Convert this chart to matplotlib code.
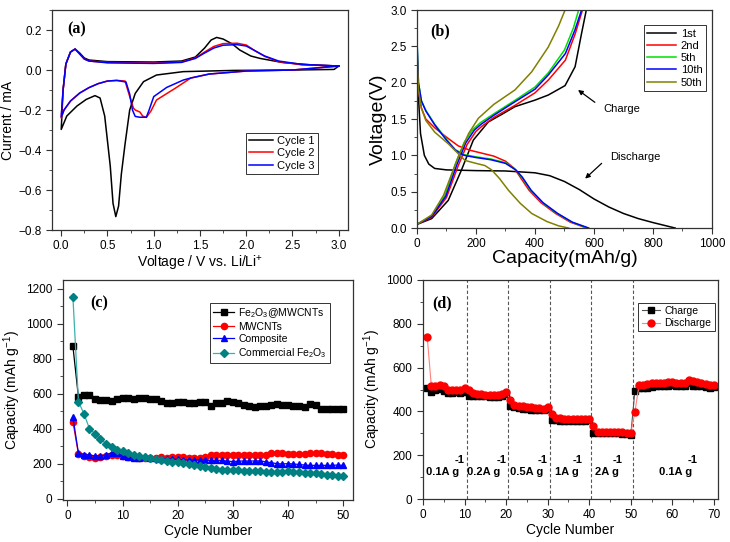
import matplotlib.pyplot as plt
from matplotlib.ticker import MultipleLocator

plt.rcParams['font.family'] = ['Liberation Sans', 'DejaVu Sans']
plt.rcParams['mathtext.fontset'] = 'custom'
plt.rcParams['mathtext.rm'] = 'Liberation Sans'
plt.rcParams['mathtext.it'] = 'Liberation Sans:italic'
plt.rcParams['mathtext.bf'] = 'Liberation Sans:bold'

# ---- (a) CV curves: cathodic scan (3.0 -> 0) then anodic scan (0 -> 3.0)
cv1_v = [3.0, 2.95, 2.5, 1.86, 1.32, 1.03, 0.89, 0.80, 0.74, 0.69, 0.65, 0.62, 0.59, 0.56, 0.53, 0.47,
         0.42, 0.365, 0.27, 0.17, 0.06, 0.0,
         0.02, 0.05, 0.1, 0.15, 0.2, 0.25, 0.3, 0.5, 1.0, 1.3, 1.45, 1.55, 1.62, 1.68, 1.75, 1.85,
         1.93, 2.05, 2.15, 2.4, 2.7, 3.0]
cv1_i = [0.02, 0.003, 0.0, -0.002, -0.008, -0.025, -0.058, -0.117, -0.2, -0.37, -0.52, -0.68, -0.733, -0.667, -0.48, -0.23,
         -0.14, -0.128, -0.147, -0.18, -0.23, -0.297,
         -0.1, 0.03, 0.09, 0.105, 0.085, 0.06, 0.05, 0.042, 0.04, 0.045, 0.065, 0.11, 0.15, 0.163, 0.155, 0.13,
         0.10, 0.07, 0.058, 0.037, 0.026, 0.02]

cv2_v = [3.0, 2.5, 2.0, 1.6, 1.4, 1.23, 1.15, 1.03, 0.97, 0.92, 0.88, 0.85, 0.80, 0.78, 0.73, 0.69, 0.6,
         0.5, 0.4, 0.3, 0.2, 0.1, 0.03, 0.0,
         0.02, 0.05, 0.1, 0.15, 0.2, 0.25, 0.3, 0.5, 1.0, 1.3, 1.45, 1.55, 1.65, 1.75, 1.9, 2.0, 2.1,
         2.2, 2.35, 2.6, 3.0]
cv2_i = [0.02, 0.0, -0.005, -0.02, -0.04, -0.092, -0.115, -0.15, -0.205, -0.237, -0.23, -0.21, -0.2, -0.19, -0.117, -0.055, -0.052,
         -0.055, -0.068, -0.088, -0.115, -0.155, -0.2, -0.24,
         -0.1, 0.03, 0.09, 0.105, 0.08, 0.055, 0.045, 0.038, 0.035, 0.04, 0.06, 0.09, 0.118, 0.132, 0.134, 0.125, 0.095,
         0.068, 0.042, 0.026, 0.02]

cv3_v = [3.0, 2.5, 2.0, 1.6, 1.4, 1.32, 1.14, 1.0, 0.95, 0.92, 0.85, 0.80, 0.77, 0.74, 0.70, 0.6,
         0.5, 0.4, 0.3, 0.2, 0.1, 0.03, 0.0,
         0.02, 0.05, 0.1, 0.15, 0.2, 0.25, 0.3, 0.5, 1.0, 1.3, 1.45, 1.55, 1.65, 1.75, 1.9, 2.0, 2.1,
         2.2, 2.35, 2.6, 3.0]
cv3_i = [0.02, 0.0, -0.005, -0.02, -0.04, -0.05, -0.087, -0.133, -0.2, -0.236, -0.236, -0.232, -0.2, -0.12, -0.06, -0.052,
         -0.055, -0.068, -0.088, -0.115, -0.155, -0.2, -0.235,
         -0.1, 0.03, 0.09, 0.105, 0.08, 0.055, 0.045, 0.036, 0.033, 0.038, 0.058, 0.085, 0.11, 0.124, 0.127, 0.12, 0.095,
         0.07, 0.045, 0.028, 0.02]

# ---- (b) charge / discharge profiles
d1_cap = [0, 5, 12, 25, 40, 60, 100, 200, 300, 400, 450, 500, 550, 600, 650, 700, 750, 800, 850, 875]
d1_v = [2.4, 1.8, 1.3, 1.0, 0.88, 0.82, 0.80, 0.79, 0.785, 0.76, 0.72, 0.64, 0.53, 0.40, 0.29, 0.20, 0.13, 0.075, 0.025, 0.0]
c1_cap = [0, 50, 106, 151, 191, 242, 290, 332, 400, 445, 502, 536, 558, 574]
c1_v = [0.05, 0.13, 0.38, 0.80, 1.21, 1.46, 1.57, 1.67, 1.76, 1.83, 1.96, 2.22, 2.68, 3.0]

d2_cap = [0, 5, 15, 30, 60, 100, 140, 180, 220, 260, 300, 330, 350, 380, 420, 470, 520, 575]
d2_v = [2.3, 1.9, 1.65, 1.50, 1.38, 1.25, 1.13, 1.07, 1.03, 0.99, 0.92, 0.82, 0.70, 0.52, 0.35, 0.20, 0.08, 0.0]
c2_cap = [0, 50, 100, 140, 170, 200, 220, 260, 333, 400, 446, 503, 537, 561]
c2_v = [0.05, 0.15, 0.42, 0.86, 1.15, 1.33, 1.40, 1.52, 1.69, 1.86, 2.04, 2.31, 2.68, 3.0]

d5_cap = [0, 5, 15, 30, 60, 100, 130, 160, 200, 250, 300, 335, 355, 385, 425, 475, 525, 578]
d5_v = [2.6, 2.0, 1.75, 1.62, 1.43, 1.22, 1.08, 1.01, 0.98, 0.95, 0.90, 0.80, 0.70, 0.52, 0.35, 0.20, 0.08, 0.0]
c5_cap = [0, 50, 95, 130, 160, 190, 215, 260, 333, 400, 446, 500, 530, 548]
c5_v = [0.05, 0.17, 0.45, 0.88, 1.18, 1.36, 1.45, 1.57, 1.76, 1.94, 2.14, 2.45, 2.75, 3.0]

d10_cap = [0, 5, 15, 30, 60, 100, 130, 160, 200, 250, 300, 335, 357, 387, 427, 477, 527, 582]
d10_v = [2.6, 2.0, 1.75, 1.61, 1.42, 1.21, 1.07, 1.0, 0.97, 0.94, 0.89, 0.80, 0.70, 0.52, 0.35, 0.20, 0.08, 0.0]
c10_cap = [0, 50, 98, 135, 165, 195, 218, 260, 333, 400, 446, 503, 535, 558]
c10_v = [0.05, 0.16, 0.44, 0.87, 1.17, 1.35, 1.43, 1.55, 1.74, 1.91, 2.11, 2.40, 2.72, 3.0]

d50_cap = [0, 5, 15, 30, 60, 106, 163, 200, 230, 253, 280, 310, 350, 389, 440, 480, 514]
d50_v = [2.5, 1.9, 1.65, 1.48, 1.32, 1.16, 0.93, 0.89, 0.86, 0.80, 0.68, 0.52, 0.34, 0.20, 0.09, 0.03, 0.0]
c50_cap = [0, 50, 90, 140, 175, 208, 260, 332, 389, 445, 480, 502]
c50_v = [0.05, 0.18, 0.45, 0.98, 1.30, 1.51, 1.70, 1.90, 2.15, 2.49, 2.78, 3.0]

# ---- (c) cycling of different materials
cyc_c = list(range(1, 51))
fe_mwcnt = [870, 580, 590, 590, 570, 565, 565, 560, 570, 578, 575, 570, 575, 575, 570, 572, 560, 545, 545, 555,
            550, 545, 545, 552, 550, 528, 545, 545, 560, 552, 545, 535, 530, 525, 532, 532, 535, 540, 535, 535,
            530, 530, 525, 540, 535, 515, 515, 510, 515, 515]
mwcnt = [440, 255, 245, 238, 232, 236, 242, 248, 250, 246, 240, 236, 234, 232, 232, 234, 236, 234, 236, 238,
         236, 234, 232, 232, 236, 248, 252, 252, 252, 250, 252, 252, 252, 248, 250, 252, 258, 260, 258, 256,
         254, 254, 256, 258, 260, 258, 256, 254, 252, 248]
composite = [465, 260, 252, 248, 245, 245, 250, 262, 258, 245, 235, 232, 234, 236, 234, 232, 228, 228, 226, 224,
             222, 220, 220, 222, 220, 218, 220, 218, 214, 212, 214, 215, 215, 215, 216, 210, 205, 200, 198, 200,
             198, 195, 192, 190, 190, 190, 190, 190, 192, 190]
commercial = [1150, 555, 485, 400, 370, 340, 315, 295, 280, 270, 260, 250, 245, 240, 232, 225, 220, 215, 212, 208,
              205, 198, 190, 185, 180, 175, 170, 166, 164, 162, 162, 160, 160, 158, 156, 153, 150, 150, 153, 155,
              153, 150, 148, 146, 145, 140, 137, 134, 132, 127]

# ---- (d) rate performance
cyc_d = list(range(1, 71))
charge = [505, 488, 500, 502, 494, 485, 486, 487, 484, 490,
          472, 470, 470, 471, 470, 466, 468, 468, 470, 480,
          424, 420, 416, 413, 410, 408, 407, 406, 406, 412,
          362, 360, 358, 358, 358, 358, 358, 358, 358, 360,
          300, 300, 300, 300, 300, 300, 300, 298, 296, 294,
          495, 505, 505, 508, 512, 515, 515, 516, 518, 520,
          514, 514, 518, 530, 518, 516, 514, 510, 508, 510]
discharge = [742, 515, 518, 522, 516, 500, 498, 500, 498, 506,
             498, 482, 478, 478, 476, 474, 474, 474, 478, 488,
             452, 430, 426, 424, 420, 418, 416, 414, 412, 418,
             390, 370, 368, 366, 365, 365, 365, 365, 365, 365,
             332, 308, 307, 307, 306, 306, 306, 304, 302, 300,
             398, 522, 522, 524, 528, 530, 530, 530, 532, 535,
             528, 528, 530, 545, 538, 532, 528, 525, 522, 520]
rate_labels = ['0.1A g', '0.2A g', '0.5A g', '1A g', '2A g', '0.1A g']
rate_x = [0.6, 10.7, 20.9, 31.8, 41.3, 56.9]
rate_sup_x = [7.5, 17.6, 27.7, 36.1, 45.7, 63.8]
rate_bounds = [10.5, 20.5, 30.5, 40.5, 50.5]


def style_axis(ax):
    for s in ax.spines.values():
        s.set_color('#333333')
        s.set_linewidth(0.9)
    ax.tick_params(which='both', direction='out', top=False, right=False, labelsize=8.5, color='#333333')
    ax.tick_params(which='major', length=4)
    ax.tick_params(which='minor', length=2.2)


def panel_label(ax, txt, x, y):
    ax.text(x, y, txt, transform=ax.transAxes, fontsize=11.5, fontweight='bold',
            family='Liberation Serif', va='center')


def small_legend(ax, anchor, loc, hl, fs=8):
    leg = ax.legend(loc=loc, bbox_to_anchor=anchor, borderaxespad=0, fontsize=fs,
                    fancybox=False, framealpha=1, edgecolor='#333333', handlelength=hl,
                    borderpad=0.3, labelspacing=0.2, handletextpad=0.4)
    leg.get_frame().set_linewidth(0.7)


fig = plt.figure(figsize=(7.3, 5.42), dpi=100)
ax_a = fig.add_axes([0.0712, 0.5756, 0.4055, 0.4059])
ax_b = fig.add_axes([0.5712, 0.5793, 0.4041, 0.4022])
ax_c = fig.add_axes([0.0863, 0.0775, 0.3973, 0.4059])
ax_d = fig.add_axes([0.5795, 0.0793, 0.4041, 0.4041])

# (a)
ax_a.plot(cv1_v, cv1_i, color='black', lw=1.1, label='Cycle 1')
ax_a.plot(cv2_v, cv2_i, color='red', lw=1.1, label='Cycle 2')
ax_a.plot(cv3_v, cv3_i, color='blue', lw=1.1, label='Cycle 3')
ax_a.set_xlim(-0.1, 3.1)
ax_a.set_ylim(-0.8, 0.3)
ax_a.xaxis.set_major_locator(MultipleLocator(0.5))
ax_a.xaxis.set_minor_locator(MultipleLocator(0.25))
ax_a.yaxis.set_major_locator(MultipleLocator(0.2))
ax_a.yaxis.set_minor_locator(MultipleLocator(0.1))
ax_a.set_xlabel('Voltage / V vs. Li/Li$^{+}$', fontsize=10, labelpad=1)
ax_a.set_ylabel('Current / mA', fontsize=10, labelpad=2)
style_axis(ax_a)
panel_label(ax_a, '(a)', 0.05, 0.91)
small_legend(ax_a, (0.655, 0.255), 'lower left', 2.1)

# (b)
ax_b.plot(d1_cap, d1_v, color='black', lw=1.1, label='1st')
ax_b.plot(c1_cap, c1_v, color='black', lw=1.1)
ax_b.plot(d2_cap, d2_v, color='red', lw=1.1, label='2nd')
ax_b.plot(c2_cap, c2_v, color='red', lw=1.1)
ax_b.plot(d5_cap, d5_v, color='#00e000', lw=1.1, label='5th')
ax_b.plot(c5_cap, c5_v, color='#00e000', lw=1.1)
ax_b.plot(d10_cap, d10_v, color='blue', lw=1.1, label='10th')
ax_b.plot(c10_cap, c10_v, color='blue', lw=1.1)
ax_b.plot(d50_cap, d50_v, color='#808000', lw=1.1, label='50th')
ax_b.plot(c50_cap, c50_v, color='#808000', lw=1.1)
ax_b.set_xlim(0, 1000)
ax_b.set_ylim(0, 3.0)
ax_b.xaxis.set_major_locator(MultipleLocator(200))
ax_b.xaxis.set_minor_locator(MultipleLocator(100))
ax_b.yaxis.set_major_locator(MultipleLocator(0.5))
ax_b.yaxis.set_minor_locator(MultipleLocator(0.25))
ax_b.set_xlabel('Capacity(mAh/g)', fontsize=14, labelpad=0)
ax_b.set_ylabel('Voltage(V)', fontsize=14, labelpad=2)
style_axis(ax_b)
panel_label(ax_b, '(b)', 0.044, 0.9)
small_legend(ax_b, (0.77, 0.93), 'upper left', 2.6)
ax_b.text(633, 1.64, 'Charge', fontsize=8, ha='left', va='center')
ax_b.annotate('', xy=(546, 1.90), xytext=(603, 1.73),
              arrowprops=dict(arrowstyle='-|>', color='black', lw=0.9, mutation_scale=7, shrinkA=0, shrinkB=0))
ax_b.text(654, 0.98, 'Discharge', fontsize=8, ha='left', va='center')
ax_b.annotate('', xy=(570, 0.68), xytext=(626, 0.89),
              arrowprops=dict(arrowstyle='-|>', color='black', lw=0.9, mutation_scale=7, shrinkA=0, shrinkB=0))

# (c)
ax_c.plot(cyc_c, fe_mwcnt, color='black', lw=0.9, marker='s', ms=4.5, label='Fe$_2$O$_3$@MWCNTs')
ax_c.plot(cyc_c, mwcnt, color='red', lw=0.9, marker='o', ms=4.5, label='MWCNTs')
ax_c.plot(cyc_c, composite, color='blue', lw=0.9, marker='^', ms=4.5, label='Composite')
ax_c.plot(cyc_c, commercial, color='#3bb0b0', lw=0.9, marker='D', ms=4.2, mfc='#008080', mec='#008080',
          label='Commercial Fe$_2$O$_3$')
ax_c.set_xlim(-0.8, 51.8)
ax_c.set_ylim(-8, 1250)
ax_c.xaxis.set_major_locator(MultipleLocator(10))
ax_c.xaxis.set_minor_locator(MultipleLocator(5))
ax_c.yaxis.set_major_locator(MultipleLocator(200))
ax_c.yaxis.set_minor_locator(MultipleLocator(100))
ax_c.set_xlabel('Cycle Number', fontsize=10, labelpad=1)
ax_c.set_ylabel('Capacity (mAh g$^{-1}$)', fontsize=10, labelpad=2)
style_axis(ax_c)
panel_label(ax_c, '(c)', 0.093, 0.895)
small_legend(ax_c, (0.507, 0.895), 'upper left', 2.0, fs=7.5)

# (d)
for xb in rate_bounds:
    ax_d.axvline(xb, color='#555555', ls='--', lw=0.8, dashes=(3, 2))
ax_d.plot(cyc_d, charge, color='#555555', lw=0.8, marker='s', ms=4.5, mfc='black', mec='black', label='Charge')
ax_d.plot(cyc_d, discharge, color='#ff8080', lw=0.8, marker='o', ms=5, mfc='red', mec='red', label='Discharge')
for lab, x0, xs in zip(rate_labels, rate_x, rate_sup_x):
    ax_d.text(x0, 123, lab, fontsize=8, fontweight='bold', va='center', ha='left')
    ax_d.text(xs, 178, '-1', fontsize=8, fontweight='bold', va='center', ha='left')
ax_d.set_xlim(0, 71)
ax_d.set_ylim(0, 1000)
ax_d.xaxis.set_major_locator(MultipleLocator(10))
ax_d.xaxis.set_minor_locator(MultipleLocator(5))
ax_d.yaxis.set_major_locator(MultipleLocator(200))
ax_d.yaxis.set_minor_locator(MultipleLocator(100))
ax_d.set_xlabel('Cycle Number', fontsize=10, labelpad=1)
ax_d.set_ylabel('Capacity (mAh g$^{-1}$)', fontsize=10, labelpad=2)
style_axis(ax_d)
panel_label(ax_d, '(d)', 0.03, 0.895)
small_legend(ax_d, (0.73, 0.895), 'upper left', 1.8, fs=7.5)

fig.savefig('out.png', dpi=100)
